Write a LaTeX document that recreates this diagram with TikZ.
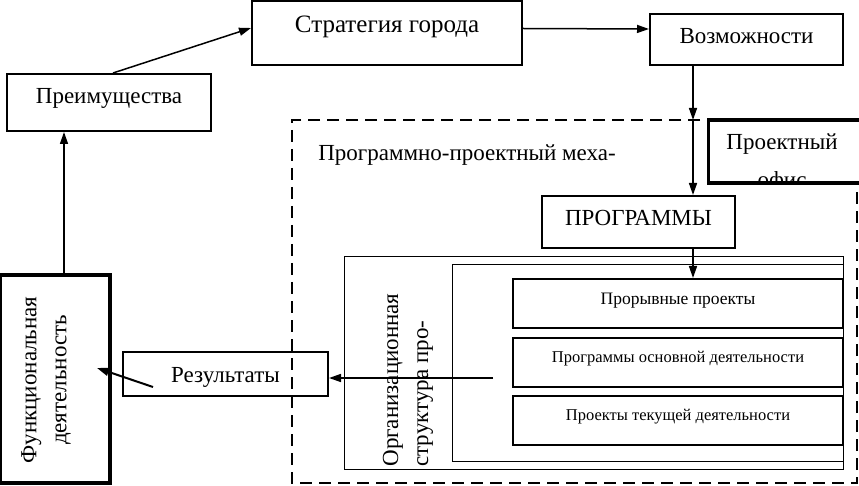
\documentclass[tikz,border=0pt]{standalone}
\usepackage{fontspec}
\setmainfont{Liberation Serif}
\usepackage{tikz}
\usetikzlibrary{positioning, arrows.meta}

\tikzset{
  big/.style={font=\fontsize{23}{30}\selectfont},
  small/.style={font=\fontsize{16.5}{19}\selectfont},
  box/.style={draw, line width=2pt, rectangle, inner sep=0pt},
  thickbox/.style={box, line width=3.5pt},
  thinbox/.style={draw, line width=1pt},
  smallbox/.style={box, line width=2pt},
  link/.style={line width=1.5pt, -{Triangle[length=12pt,width=8pt]}},
}

\begin{document}
\begin{tikzpicture}[x=1pt, y=-1pt]
            \useasboundingbox (0,0) rectangle (859,486);

            % Верхний ряд
            \node[box, minimum width=270, minimum height=64, label={[yshift=6.5pt, font=\fontsize{25}{30}\selectfont]center:Стратегия города}] (strat) at (387,33) {};
            \node[box, minimum width=193, minimum height=51, label={[big, yshift=3pt]center:Возможности}] (vozm) at (746.5,39.5) {};
            \node[box, minimum width=204, minimum height=57, label={[big, yshift=4pt]center:Преимущества}] (preim) at (109,102.5) {};

            % Левая колонка
            \node[thickbox, minimum width=110, minimum height=208] (func) at (55,379) {};
            \node[big, rotate=90, align=center] (functext) at (46,380) {Функциональная\\деятельность};
            \node[box, minimum width=205, minimum height=44, label={[big, yshift=-3pt]center:Результаты}] (rez) at (225.5,374) {};

            % Программно-проектный механизм
            \draw[line width=2.5pt, dash pattern=on 12pt off 7pt] (700,120) -- (292,120) -- (292,483) -- (857,483) -- (857,190);
            \node[big, anchor=base] (mech) at (467,161) {Программно-проектный меха-};

            \begin{scope}
              \clip (708,121) rectangle (870,181.5);
              \node[big, anchor=base] (officetop) at (782,150) {Проектный};
              \node[big, anchor=base] (officebot) at (782,188) {офис};
            \end{scope}
            \draw[line width=3.5pt] (870,120) -- (708.5,120) -- (708.5,183) -- (870,183);

            \node[box, minimum width=193, minimum height=52, label={[big, yshift=4pt]center:ПРОГРАММЫ}] (progs) at (638.5,222) {};

            % Организационная структура
            \draw[thinbox] (344,257) rectangle (843,469);
            \draw[thinbox] (452,265) rectangle (843,461);
            \node[big, rotate=90, align=left] (org) at (408,380) {Организационная\\структура про-};

            \node[smallbox, minimum width=330, minimum height=49, label={[small, font=\fontsize{17.5}{19}\selectfont, yshift=3pt]center:Прорывные проекты}] (b1) at (678,303.5) {};
            \node[smallbox, minimum width=330, minimum height=49, label={[small, yshift=3.5pt]center:Программы основной деятельности}] (b2) at (678,362.5) {};
            \node[smallbox, minimum width=330, minimum height=49, label={[small, yshift=3.5pt]center:Проекты текущей деятельности}] (b3) at (678,420.5) {};

            % Связи
            \coordinate (vozmout) at (693,65);
            \coordinate (mechin) at (693,120);
            \coordinate (orgout) at (493,378);
            \coordinate (rezout) at (153,387);
            \coordinate (funcin) at (97,368);

            \draw[link] ([xshift=4pt]preim.north) -- ([yshift=5pt]strat.west);
            \draw[link] ([yshift=4.5pt]strat.east) -- ([yshift=10.5pt]vozm.west);
            \draw[link] (vozmout) -- (mechin);
            \draw[link] (mechin) -- (progs.north -| mechin);
            \draw[link] (progs.south -| mechin) -- (b1.north -| mechin);
            \draw[link] (orgout) -- (rez.east |- orgout);
            \draw[link, line width=2pt] (rezout) -- (funcin);
            \draw[link] (func.north -| 64,0) -- (preim.south -| 64,0);
        \end{tikzpicture}
\end{document}
